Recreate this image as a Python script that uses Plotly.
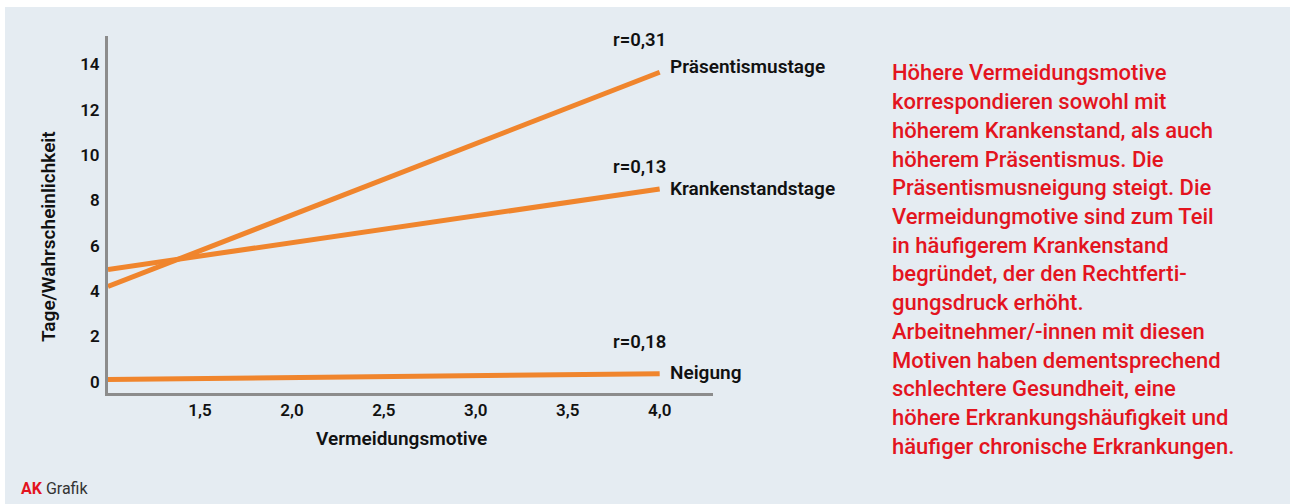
import plotly.graph_objects as go

# ---- data ----
x_vals = [1.0, 4.0]
series_names = ["Präsentismustage", "Krankenstandstage", "Neigung"]
series_values = [
    [4.2, 13.65],
    [4.95, 8.5],
    [0.1, 0.35],
]
r_labels = ["r=0,31", "r=0,13", "r=0,18"]
y_ticks = [0, 2, 4, 6, 8, 10, 12, 14]
x_ticks = [1.5, 2.0, 2.5, 3.0, 3.5, 4.0]
x_title = "Vermeidungsmotive"
y_title = "Tage/Wahrscheinlichkeit"
side_text = [
    "Höhere Vermeidungsmotive",
    "korrespondieren sowohl mit",
    "höherem Krankenstand, als auch",
    "höherem Präsentismus. Die",
    "Präsentismusneigung steigt. Die",
    "Vermeidungmotive sind zum Teil",
    "in häufigerem Krankenstand",
    "begründet, der den Rechtferti-",
    "gungsdruck erhöht.",
    "Arbeitnehmer/-innen mit diesen",
    "Motiven haben dementsprechend",
    "schlechtere Gesundheit, eine",
    "höhere Erkrankungshäufigkeit und",
    "häufiger chronische Erkrankungen.",
]

# ---- style ----
W, H = 1290, 504
ML, MR, MT, MB = 108, 577, 36, 111
PW, PH = W - ML - MR, H - MT - MB
ORANGE = "#f0852d"
RED = "#e3141e"
PANEL = "#e5ecf2"
AXIS = "#8c8c8c"
FONT = "Roboto"
name_shift = [6, 1, 1]
r_shift = [32, 22, 32]

def px_x(p):
    return (p - ML) / PW

def px_y(p):
    return (H - MB - p) / PH

fig = go.Figure()
for name, vals in zip(series_names, series_values):
    fig.add_trace(go.Scatter(x=x_vals, y=vals, mode="lines", name=name,
                             line=dict(color=ORANGE, width=5),
                             showlegend=False, hoverinfo="skip"))

annotations = []
for i, (name, vals) in enumerate(zip(series_names, series_values)):
    annotations.append(dict(x=x_vals[-1], y=vals[-1], xref="x", yref="y",
                            text=name, showarrow=False, xanchor="left",
                            yanchor="middle", xshift=8, yshift=name_shift[i],
                            font=dict(family=FONT, size=19, color="#111",
                                      weight=600)))
    annotations.append(dict(x=x_vals[-1], y=vals[-1], xref="x", yref="y",
                            text=r_labels[i], showarrow=False, xanchor="right",
                            yanchor="middle", xshift=8, yshift=r_shift[i],
                            font=dict(family=FONT, size=18.5, color="#111",
                                      weight=600)))

line_h = 28.7
for k, line in enumerate(side_text):
    annotations.append(dict(x=px_x(890), y=px_y(73 + k * line_h),
                            xref="paper", yref="paper", text=line,
                            showarrow=False, xanchor="left", yanchor="middle",
                            font=dict(family=FONT, size=22, color=RED,
                                      weight=500)))

# axis titles
annotations.append(dict(x=px_x(401), y=px_y(438), xref="paper", yref="paper",
                        text=x_title, showarrow=False,
                        xanchor="center", yanchor="middle",
                        font=dict(family=FONT, size=19, color="#111", weight=600)))
annotations.append(dict(x=px_x(48), y=px_y(237), xref="paper", yref="paper",
                        text=y_title, showarrow=False, textangle=-90,
                        xanchor="center", yanchor="middle",
                        font=dict(family=FONT, size=19, color="#111", weight=600)))

annotations.append(dict(x=px_x(19), y=px_y(488), xref="paper", yref="paper",
                        text="<b>AK</b> <span style='color:#333'>Grafik</span>",
                        showarrow=False, xanchor="left", yanchor="middle",
                        font=dict(family=FONT, size=16, color=RED)))

fig.update_layout(
    width=W, height=H,
    margin=dict(l=ML, r=MR, t=MT, b=MB),
    paper_bgcolor="white",
    plot_bgcolor="rgba(0,0,0,0)",
    separators=",.",
    font=dict(family=FONT, color="#111"),
    shapes=[dict(type="rect", xref="paper", yref="paper",
                 x0=px_x(5), x1=px_x(W + 5), y0=px_y(H + 5), y1=px_y(7),
                 fillcolor=PANEL, line=dict(width=0), layer="below")],
    annotations=annotations,
    xaxis=dict(range=[1.0, 4.29], tickvals=x_ticks, tickformat=".1f",
               showgrid=False, zeroline=False, showline=True,
               linecolor=AXIS, linewidth=3, ticks="",
               tickfont=dict(family=FONT, size=17, weight=600)),
    yaxis=dict(range=[-0.5, 15.25], tickvals=y_ticks,
               showgrid=False, zeroline=False, showline=True,
               linecolor=AXIS, linewidth=3, ticks="", ticklabelstandoff=2,
               tickfont=dict(family=FONT, size=17, weight=600)),
)

fig.write_html("out.html")
